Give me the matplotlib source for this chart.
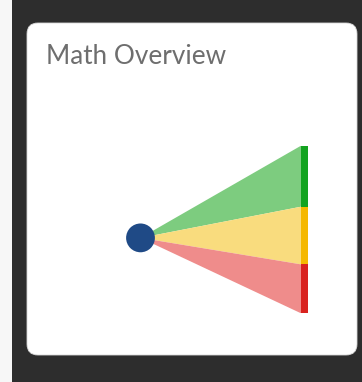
import matplotlib
matplotlib.use("Agg")
import matplotlib.pyplot as plt
from matplotlib.patches import FancyBboxPatch, Rectangle, Polygon

# data
title = "Math Overview"
bands = ["High", "Medium", "Low"]
band_share = [36.4, 34.4, 29.2]          # percent, top to bottom
score = 45.0                             # position of the dot, 0 = bottom, 100 = top
fill_colors = ["#7dcc7f", "#f9dc7e", "#ef8c8b"]
edge_colors = ["#13a320", "#f5b800", "#d9221f"]

W, H = 362, 382
fig = plt.figure(figsize=(W / 100, H / 100), dpi=100)
fig.patch.set_facecolor("#2d2d2d")

# light strip on the left edge + white card
fig.patches.append(Rectangle((0, 0), 12 / W, 1, transform=fig.transFigure,
                             facecolor="#f7f7f7", edgecolor="none", zorder=0))
card = FancyBboxPatch((27 / W, (H - 355) / H), (357 - 27) / W, (355 - 23) / H,
                      boxstyle="round,pad=0,rounding_size=0.03",
                      transform=fig.transFigure, facecolor="white",
                      edgecolor="#d8d8d8", linewidth=0.6, zorder=0,
                      mutation_aspect=W / H)
fig.patches.append(card)

fig.text(46 / W, 1 - 64 / H, title, fontsize=18.8, color="#6e6e6e",
         family=["Lato", "DejaVu Sans"], va="baseline", ha="left")

# chart axes: x = 0 at the dot, 1 at the coloured bar
left, right, top, bottom = 140.5, 308, 145.7, 313.3
ax = fig.add_axes([left / W, 1 - bottom / H, (right - left) / W, (bottom - top) / H])
ax.set_zorder(2)
bar_w = 7 / (301 - left)
ax.set_xlim(0, 1 + bar_w)
ax.set_ylim(0, 100)
ax.axis("off")

y_top = 100.0
for share, fc, ec in zip(band_share, fill_colors, edge_colors):
    y_bot = y_top - share
    ax.add_patch(Polygon([(0, score), (1, y_top), (1, y_bot)], closed=True,
                         facecolor=fc, edgecolor="none", zorder=1))
    ax.bar(1, share, bottom=y_bot, width=bar_w, align="edge", color=ec, zorder=2)
    y_top = y_bot

ax.scatter([0], [score], s=430, color="#1f4a86", zorder=3, clip_on=False,
           edgecolors="none")

fig.savefig("out.png", dpi=100, facecolor=fig.get_facecolor())
